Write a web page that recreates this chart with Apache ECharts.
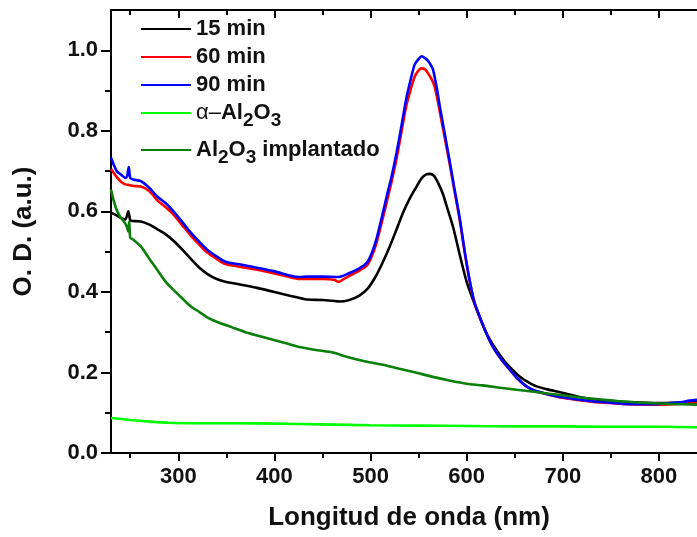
<!DOCTYPE html>
<html>
<head>
<meta charset="utf-8">
<script src="https://cdn.jsdelivr.net/npm/echarts@6/dist/echarts.min.js"></script>
<style>
  html, body { margin: 0; padding: 0; background: #fff; }
  #chart { width: 697px; height: 537px; }
</style>
</head>
<body>
<div id="chart"></div>
<script>
// Absorption spectra: optical density vs wavelength (nm)
const seriesNames = ['15 min', '60 min', '90 min', 'α-Al2O3', 'Al2O3 implantado'];

const wl15 = [230, 236, 240, 245, 248, 250, 252, 261, 270, 278, 287, 295, 305, 313, 322, 330, 340, 348, 365, 382, 400, 417, 434, 450, 460, 468, 478, 488, 497, 505, 512, 520, 527, 534, 541, 548, 553, 558, 562, 566, 570, 575, 580, 586, 593, 600, 607, 613, 620, 627, 638, 647, 655, 664, 672, 684, 697, 714, 730, 750, 770, 800, 820, 840];
const od15 = [0.597, 0.590, 0.584, 0.580, 0.600, 0.578, 0.576, 0.575, 0.567, 0.556, 0.543, 0.527, 0.503, 0.482, 0.460, 0.445, 0.432, 0.426, 0.418, 0.410, 0.400, 0.390, 0.381, 0.380, 0.378, 0.376, 0.380, 0.390, 0.408, 0.437, 0.470, 0.513, 0.555, 0.598, 0.633, 0.662, 0.682, 0.692, 0.693, 0.688, 0.672, 0.645, 0.607, 0.560, 0.490, 0.425, 0.378, 0.340, 0.300, 0.270, 0.232, 0.208, 0.190, 0.176, 0.166, 0.158, 0.151, 0.141, 0.134, 0.129, 0.126, 0.124, 0.125, 0.126];

const wl60 = [230, 236, 241, 245, 250, 253, 261, 270, 278, 287, 295, 304, 313, 322, 330, 340, 348, 365, 382, 400, 417, 426, 434, 450, 462, 467, 472, 478, 488, 496, 501, 506, 511, 516, 522, 527, 532, 537, 542, 546, 550, 553, 557, 560, 563, 566, 569, 572, 577, 582, 587, 593, 598, 603, 608, 613.5, 620, 627, 636, 645, 653, 662, 670, 680, 697, 715, 732, 750, 766, 785, 801, 820, 840];
const od60 = [0.705, 0.685, 0.672, 0.667, 0.665, 0.663, 0.662, 0.650, 0.628, 0.610, 0.592, 0.566, 0.540, 0.517, 0.498, 0.482, 0.470, 0.462, 0.455, 0.446, 0.436, 0.432, 0.432, 0.432, 0.430, 0.425, 0.432, 0.440, 0.452, 0.465, 0.487, 0.520, 0.566, 0.615, 0.675, 0.730, 0.795, 0.860, 0.905, 0.935, 0.950, 0.955, 0.952, 0.942, 0.930, 0.915, 0.885, 0.848, 0.785, 0.722, 0.655, 0.575, 0.497, 0.428, 0.374, 0.338, 0.300, 0.265, 0.232, 0.206, 0.184, 0.165, 0.155, 0.148, 0.138, 0.132, 0.127, 0.124, 0.121, 0.120, 0.120, 0.122, 0.124];

const wl90 = [230, 233, 236, 241, 245, 247, 248.5, 250, 253, 261, 270, 278, 287, 295, 304, 313, 322, 330, 340, 348, 356, 365, 382, 400, 417, 426, 434, 450, 467, 478, 488, 496, 501, 506, 511, 516, 522, 527, 532, 537, 542, 546, 550, 553, 557, 560, 563, 565, 569, 572, 577, 582, 587, 593, 598, 603, 608, 613.5, 620, 627, 636, 645, 653, 662, 670, 680, 697, 715, 732, 750, 766, 785, 801, 820, 832, 840];
const od90 = [0.733, 0.715, 0.700, 0.690, 0.683, 0.690, 0.710, 0.683, 0.679, 0.675, 0.658, 0.637, 0.620, 0.600, 0.574, 0.547, 0.524, 0.505, 0.488, 0.476, 0.471, 0.468, 0.460, 0.451, 0.440, 0.437, 0.438, 0.438, 0.437, 0.447, 0.458, 0.472, 0.495, 0.530, 0.578, 0.629, 0.688, 0.745, 0.810, 0.878, 0.930, 0.965, 0.978, 0.985, 0.980, 0.973, 0.962, 0.952, 0.905, 0.861, 0.795, 0.729, 0.660, 0.580, 0.500, 0.430, 0.375, 0.339, 0.300, 0.265, 0.233, 0.207, 0.185, 0.166, 0.156, 0.149, 0.139, 0.133, 0.128, 0.125, 0.122, 0.121, 0.122, 0.125, 0.130, 0.132];

const wlAlpha = [230, 250, 270, 290, 320, 360, 400, 450, 500, 550, 600, 650, 700, 750, 800, 840];
const odAlpha = [0.087, 0.082, 0.078, 0.075, 0.074, 0.074, 0.073, 0.071, 0.069, 0.068, 0.067, 0.066, 0.066, 0.065, 0.065, 0.064];

const wlImpl = [230, 233, 236.5, 240, 243.4, 246, 248, 249, 250, 253, 261, 270, 278, 287, 295, 305, 313, 322, 330, 340, 356, 370, 391, 410, 426, 445, 460, 478, 495, 513, 530, 548, 565, 582, 600, 617, 635, 652, 670, 686, 704, 721, 740, 756, 775, 791, 810, 840];
const odImpl = [0.654, 0.625, 0.600, 0.585, 0.575, 0.565, 0.550, 0.575, 0.535, 0.530, 0.513, 0.482, 0.455, 0.425, 0.405, 0.382, 0.364, 0.350, 0.337, 0.326, 0.312, 0.300, 0.286, 0.274, 0.263, 0.255, 0.250, 0.237, 0.227, 0.219, 0.209, 0.199, 0.189, 0.180, 0.172, 0.168, 0.162, 0.157, 0.152, 0.147, 0.142, 0.137, 0.133, 0.129, 0.126, 0.124, 0.122, 0.120];

const xMajorTicks = [300, 400, 500, 600, 700, 800];
const xMinorTicks = [250, 350, 450, 550, 650, 750, 850];
const yMajorTicks = [0, 0.2, 0.4, 0.6, 0.8, 1.0];
const yMinorTicks = [0.1, 0.3, 0.5, 0.7, 0.9];

const colors = ['#000000', '#ff0000', '#0000ff', '#00ff00', '#0a800a'];
const legendLabels = [
  '{b|15 min}',
  '{b|60 min}',
  '{b|90 min}',
  '{a|α–}{b|Al}{s|2}{b|O}{s|3}',
  '{b|Al}{s|2}{b|O}{s|3}{b| implantado}'
];
const legendRowTops = [18, 46, 74, 102, 139];

const FONT = '"Liberation Sans", Arial, Helvetica, sans-serif';
const INK = '#111';

function pairs(xs, ys) {
  return xs.map((x, i) => [x, ys[i]]);
}

const seriesData = [
  pairs(wl15, od15),
  pairs(wl60, od60),
  pairs(wl90, od90),
  pairs(wlAlpha, odAlpha),
  pairs(wlImpl, odImpl)
];

// legend text styles: bold body, lighter alpha, lowered subscripts
const richText = {
  b: { fontFamily: FONT, fontSize: 22, fontWeight: 'bold', color: INK, lineHeight: 34, verticalAlign: 'middle' },
  a: { fontFamily: FONT, fontSize: 22, fontWeight: 'normal', color: INK, lineHeight: 34, verticalAlign: 'middle' },
  s: { fontFamily: FONT, fontSize: 19, fontWeight: 'bold', color: INK, lineHeight: 18, verticalAlign: 'bottom' }
};

function xAxisDef(position, ticks, len, inside, showLine, labels) {
  return {
    type: 'value', min: 230, max: 850, position: position, offset: 0,
    axisLine: { show: showLine, onZero: false, lineStyle: { color: '#000', width: 2 } },
    axisTick: { show: true, inside: inside, length: len, customValues: ticks, lineStyle: { color: '#000', width: 2 } },
    axisLabel: labels ? {
      show: true, customValues: ticks, margin: 13,
      fontFamily: FONT, fontSize: 22, fontWeight: 'bold', color: INK
    } : { show: false },
    splitLine: { show: false }
  };
}

function yAxisDef(ticks, len, showLine, labels) {
  return {
    type: 'value', min: 0, max: 1.1, position: 'left', offset: 0,
    axisLine: { show: showLine, onZero: false, lineStyle: { color: '#000', width: 2 } },
    axisTick: { show: true, inside: false, length: len, customValues: ticks, lineStyle: { color: '#000', width: 2 } },
    axisLabel: labels ? {
      show: true, customValues: ticks, margin: 13,
      formatter: v => v.toFixed(1),
      fontFamily: FONT, fontSize: 22, fontWeight: 'bold', color: INK
    } : { show: false },
    splitLine: { show: false }
  };
}

const xMain = xAxisDef('bottom', xMajorTicks, 8, false, true, true);
xMain.name = 'Longitud de onda (nm)';
xMain.nameLocation = 'middle';
xMain.nameGap = 52;
xMain.nameTextStyle = { fontFamily: FONT, fontSize: 26, fontWeight: 'bold', color: INK };

const yMain = yAxisDef(yMajorTicks, 10, true, true);
yMain.name = 'O. D. (a.u.)';
yMain.nameLocation = 'middle';
yMain.nameGap = 74;
yMain.nameTextStyle = { fontFamily: FONT, fontSize: 26, fontWeight: 'bold', color: INK };

const option = {
  backgroundColor: '#ffffff',
  animation: false,
  grid: {
    left: 111, right: -10, top: 10, bottom: 84, containLabel: false, outerBoundsMode: 'none',
    show: true, borderColor: '#000', borderWidth: 2, backgroundColor: 'transparent'
  },
  xAxis: [
    xMain,
    xAxisDef('bottom', xMinorTicks, 5, false, false, false),
    xAxisDef('top', xMajorTicks, 8, true, true, false),
    xAxisDef('top', xMinorTicks, 5, true, false, false)
  ],
  yAxis: [
    yMain,
    yAxisDef(yMinorTicks, 6, false, false)
  ],
  legend: seriesNames.map((name, i) => ({
    data: [name],
    left: 141,
    top: legendRowTops[i],
    padding: 0,
    itemWidth: 50,
    itemHeight: 14,
    selectedMode: false,
    icon: 'path://M0,6L50,6L50,8L0,8Z',
    itemStyle: { color: colors[i] },
    formatter: () => legendLabels[i],
    textStyle: { fontFamily: FONT, fontSize: 22, fontWeight: 'bold', color: INK, rich: richText }
  })),
  series: seriesNames.map((name, i) => ({
    name: name,
    type: 'line',
    data: seriesData[i],
    showSymbol: false,
    symbol: 'none',
    smooth: 0.25,
    color: colors[i],
    lineStyle: { color: colors[i], width: 2.6 },
    emphasis: { disabled: true }
  }))
};

const chart = echarts.init(document.getElementById('chart'), null, { renderer: 'canvas' });
chart.setOption(option);
</script>
</body>
</html>
